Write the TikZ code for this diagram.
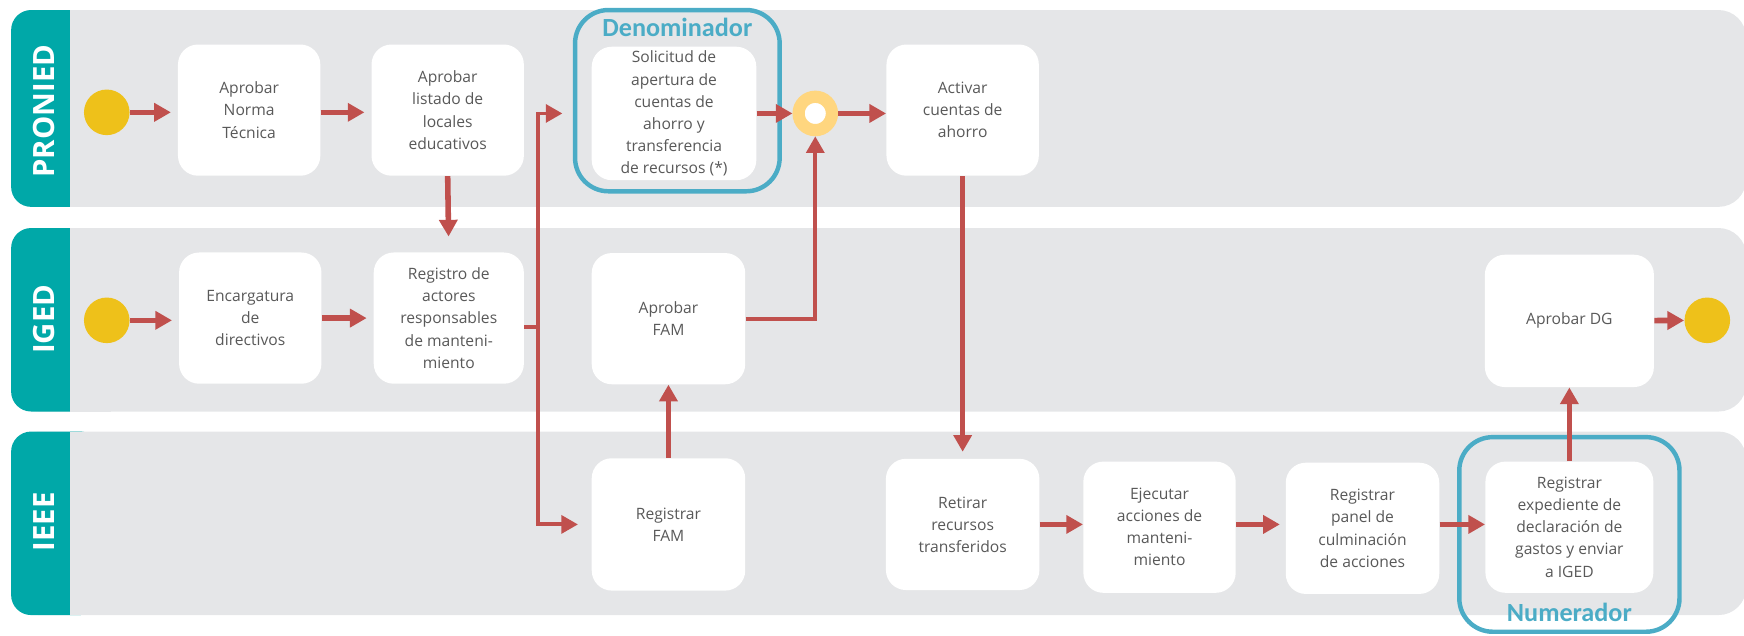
\documentclass[tikz,border=0pt]{standalone}
\usepackage{fontspec}
\setmainfont{Open Sans}
\newfontfamily\calibfont{Carlito}
\usetikzlibrary{arrows.meta}
\usetikzlibrary{positioning}
\definecolor{lanegray}{HTML}{E5E6E8}
\definecolor{tabteal}{HTML}{00A8A8}
\definecolor{flowred}{HTML}{C0504D}
\definecolor{evtyellow}{HTML}{EEC11A}
\definecolor{gwyellow}{HTML}{FFD67F}
\definecolor{kpiblue}{HTML}{4BACC6}
\definecolor{txtgray}{HTML}{595959}
\tikzset{
  task/.style = {fill=white, rounded corners=0.36cm, align=center, text=txtgray,
    font=\fontsize{8}{11.3}\selectfont, minimum width=2.76cm, minimum height=2.36cm, inner sep=1pt},
  event/.style = {circle, fill=evtyellow, minimum size=0.82cm, inner sep=0pt},
  gateway/.style = {circle, draw=gwyellow, line width=0.22cm, fill=white, minimum size=0.6cm, inner sep=0pt},
  flow/.style = {draw=flowred, line width=0.1cm, -{Triangle[width=0.32cm,length=0.3cm]}},
  kpibox/.style = {draw=kpiblue, line width=0.08cm, rounded corners=0.6cm, inner sep=0pt},
  kpilabel/.style = {text=kpiblue, font=\calibfont\bfseries\fontsize{13.4}{16}\selectfont},
  lanename/.style = {rotate=90, text=white, font=\bfseries\fontsize{15}{18}\selectfont},
}
\begin{document}
\begin{tikzpicture}[x=0.02cm, y=-0.02cm]
    \useasboundingbox (0,0) rectangle (1568,571);
    % lanes
    \fill [lanegray, rounded corners=0.5cm] (10,9) rectangle (1570,186);
    \fill [lanegray, rounded corners=0.5cm] (10,205) rectangle (1570,370);
    \fill [lanegray, rounded corners=0.5cm] (10,388) rectangle (1570,553);
    \fill [tabteal, rounded corners=0.36cm] (10,9) rectangle (90,186);
    \fill [tabteal, rounded corners=0.36cm] (10,205) rectangle (90,370);
    \fill [tabteal, rounded corners=0.36cm] (10,388) rectangle (90,553);
    \fill [lanegray] (63,9) rectangle (100,186);
    \fill [lanegray] (63,205) rectangle (100,370);
    \fill [lanegray] (63,388) rectangle (100,553);
    \node [lanename] (pronied) at (40,100) {PRONIED};
    \node [lanename] (iged) at (40,287) {IGED};
    \node [lanename] (ieee) at (40,469) {IEEE};

    % indicator frames
    \node [kpibox, minimum width=3.68cm, minimum height=3.26cm] (denom) at (609,90.5) {};
    \node [kpilabel] (denomlbl) at (609,25) {Denominador};
    \node [kpibox, minimum width=3.96cm, minimum height=3.5cm] (numer) at (1411,480.5) {};
    \node [kpilabel] (numerlbl) at (1411,551) {Numerador};

    % PRONIED
    \node [event] (startp) at (96,101) {};
    \node [task, minimum width=2.56cm] (norma) at (224,99) {Aprobar\\Norma\\Técnica};
    \node [task, minimum width=2.74cm] (listado) at (402.5,99) {Aprobar\\listado de\\locales\\educativos};
    \node [task, minimum width=2.96cm, minimum height=2.4cm] (solicitud) at (606,102) {Solicitud de\\apertura de\\cuentas de\\ahorro y\\transferencia\\de recursos (*)};
    \node [gateway] (gw) at (733,102) {};
    \node [task, minimum width=2.74cm] (activar) at (865.5,99) {Activar\\cuentas de\\ahorro};

    % IGED
    \node [event] (starti) at (96,288) {};
    \node [task, minimum width=2.56cm] (encargo) at (225,286) {Encargatura\\de\\directivos};
    \node [task, minimum width=2.7cm] (registro) at (403.5,286) {Registro de\\actores\\responsables\\de manteni-\\miento};
    \node [task] (aprobfam) at (601,286.5) {Aprobar\\FAM};
    \node [task, minimum width=3.04cm, minimum height=2.38cm] (aprobdg) at (1411,288.5) {Aprobar DG};
    \node [event] (fin) at (1535,288) {};

    % IEEE
    \node [task, minimum height=2.38cm] (regfam) at (601,471.5) {Registrar\\FAM};
    \node [task] (retirar) at (865.5,471.5) {Retirar\\recursos\\transferidos};
    \node [task, minimum width=2.74cm] (ejecutar) at (1042.5,474) {Ejecutar\\acciones de\\manteni-\\miento};
    \node [task] (panel) at (1225,475) {Registrar\\panel de\\culminación\\de acciones};
    \node [task, minimum width=3.02cm] (expediente) at (1411,474) {Registrar\\expediente de\\declaración de\\gastos y enviar\\a IGED};

    % flows
    \coordinate (split) at (484,294);
    \draw [flow, shorten >=0.12cm] (startp.east) -- (startp.east -| norma.west);
    \draw [flow, shorten >=0.12cm] (norma.east |- startp) -- (startp -| listado.west);
    \draw [flow, shorten >=0.28cm] (listado.south) -- (registro.north);
    \draw [flow, shorten >=0.12cm] (starti.east) -- (starti.east -| encargo.west);
    \draw [flow, shorten >=0.12cm] (encargo.east |- registro) -- (registro.west);
    \draw [flow, line width=0.07cm, -] (registro.east |- split) -- (split);
    \draw [flow, line width=0.07cm, shorten >=0.52cm] (split) |- (solicitud.west);
    \draw [flow, line width=0.07cm, shorten >=0.24cm] (split) |- (regfam.west);
    \draw [flow] (solicitud.east) -- (gw.west);
    \draw [flow] (gw.east) -- (gw.east -| activar.west);
    \draw [flow, line width=0.07cm] (aprobfam.east) -| (gw.south);
    \draw [flow, shorten >=0.12cm] (activar.south) -- (retirar.north);
    \draw [flow] (regfam.north) -- (aprobfam.south);
    \draw [flow] (retirar.east) -- (retirar.east -| ejecutar.west);
    \draw [flow, shorten >=0.1cm] (ejecutar.east |- retirar) -- (retirar -| panel.west);
    \draw [flow] (panel.east |- retirar) -- (retirar -| expediente.west);
    \draw [flow] (expediente.north) -- (aprobdg.south);
    \draw [flow] (aprobdg) -- (fin);
\end{tikzpicture}
\end{document}
